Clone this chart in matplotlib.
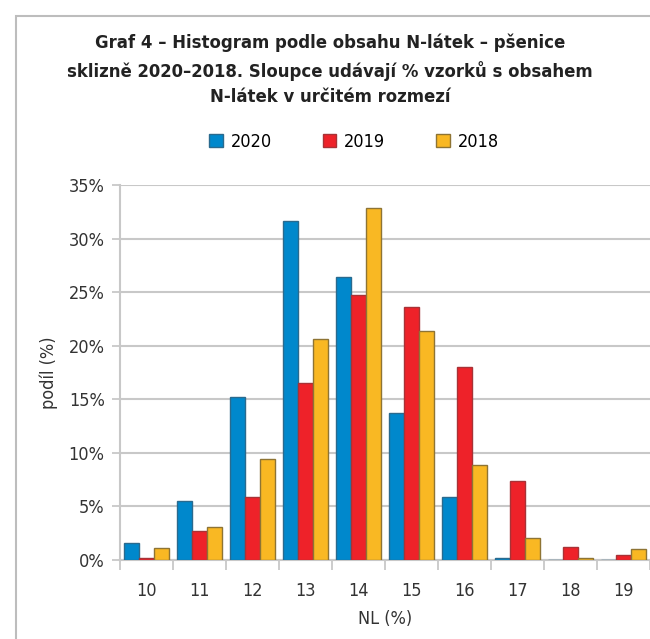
import matplotlib.pyplot as plt
import matplotlib.patches as mpatches
import numpy as np

plt.rcParams['font.family'] = ['DejaVu Sans']
plt.rcParams['font.stretch'] = 'condensed'

categories = ['10', '11', '12', '13', '14', '15', '16', '17', '18', '19']
years = ['2020', '2019', '2018']
v2020 = [1.6, 5.5, 15.2, 31.6, 26.4, 13.7, 5.9, 0.2, 0.0, 0.0]
v2019 = [0.2, 2.7, 5.9, 16.5, 24.7, 23.6, 18.0, 7.4, 1.2, 0.45]
v2018 = [1.1, 3.1, 9.4, 20.6, 32.9, 21.4, 8.9, 2.1, 0.2, 1.0]

colors = ['#0088CC', '#EE2229', '#F9B823']
edges = ['#2A6A8E', '#A83236', '#8E7434']

fig = plt.figure(figsize=(6.5, 6.39), dpi=100)
ax = fig.add_axes([120 / 650, 1 - 560 / 639, 530 / 650, 375 / 639])

# outer chart frame
fig.patches.append(mpatches.Rectangle((16 / 650, -0.1), 1.2, 1 - 16 / 639 + 0.1,
                                      transform=fig.transFigure, fill=False,
                                      edgecolor='#BDBDBD', linewidth=1.5))

x = np.arange(len(categories))
w = 0.285
for i, (vals, c, e) in enumerate(zip([v2020, v2019, v2018], colors, edges)):
    ax.bar(x + (i - 1) * w, vals, width=w, color=c, edgecolor=e,
           linewidth=1.0, zorder=3)

ax.set_xlim(-0.5, len(categories) - 0.5)
ax.set_ylim(0, 35)
ax.set_yticks(range(0, 36, 5))
ax.set_yticklabels([f'{t}%' for t in range(0, 36, 5)])
ax.set_xticks(x)
ax.set_xticklabels(categories)
ax.set_xticks(np.arange(-0.5, len(categories)), minor=True)
ax.tick_params(axis='x', which='major', length=0, pad=16, labelsize=13, labelcolor='#333333')
ax.tick_params(axis='x', which='minor', length=7, width=1.3, color='#C8C8C8')
ax.tick_params(axis='y', length=6, width=1.3, color='#C8C8C8', pad=5,
               labelsize=13, labelcolor='#333333')

ax.grid(axis='y', color='#C8C8C8', linewidth=1.5, zorder=0)
for s in ['top', 'right']:
    ax.spines[s].set_visible(False)
ax.spines['left'].set_color('#C8C8C8')
ax.spines['left'].set_linewidth(1.5)
ax.spines['bottom'].set_color('#C8C8C8')
ax.spines['bottom'].set_linewidth(1.5)

ax.set_xlabel('NL (%)', fontsize=13, color='#333333', labelpad=7)
ax.set_ylabel('podíl (%)', fontsize=13, color='#333333', labelpad=8)

title = ('Graf 4 – Histogram podle obsahu N-látek – pšenice\n'
         'sklizně 2020–2018. Sloupce udávají % vzorků s obsahem\n'
         'N-látek v určitém rozmezí')
fig.text(330 / 650, 1 - 70 / 639, title, ha='center', va='center',
         fontsize=13.2, fontweight='bold', color='#222222', linespacing=1.55)

handles = [mpatches.Patch(facecolor=c, edgecolor=e, label=y)
           for c, e, y in zip(colors, edges, years)]
fig.legend(handles=handles, loc='center', bbox_to_anchor=(354 / 650, 1 - 142 / 639),
           ncol=3, frameon=False, fontsize=13, handlelength=0.75, handleheight=0.75,
           columnspacing=2.8, handletextpad=0.45)

fig.savefig('out.png', dpi=100)
